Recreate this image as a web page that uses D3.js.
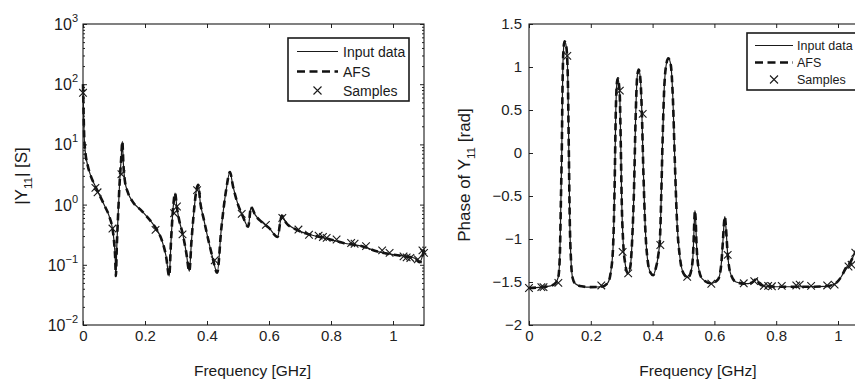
<!DOCTYPE html>
<html>
<head>
<meta charset="utf-8">
<title>Y11 magnitude and phase</title>
<script src="https://cdn.jsdelivr.net/npm/d3@7"></script>
<style>
  body { margin: 0; background: #fff; }
  svg { display: block; font-family: "Liberation Sans", Arial, sans-serif; }
  .tick line { stroke: #222; }
  .tick text { fill: #222; }
</style>
</head>
<body>
<svg id="chart" width="855" height="383"></svg>
<script>
// ---- data ----
const freqTicks = [0, 0.2, 0.4, 0.6, 0.8, 1];
const magTicks = [1e-2, 1e-1, 1e0, 1e1, 1e2, 1e3];
const phaseTicks = [1.5, 1, 0.5, 0, -0.5, -1, -1.5, -2];
const legendLabels = ["Input data", "AFS", "Samples"];

// |Y11| input data [S]
const magFreq = [0, 0.002, 0.004, 0.008, 0.015, 0.025, 0.04, 0.055, 0.07, 0.085, 0.095, 0.1, 0.104, 0.106,
  0.109, 0.113, 0.118, 0.123, 0.127, 0.13, 0.135, 0.145, 0.16, 0.19, 0.22, 0.24, 0.255, 0.268, 0.278,
  0.284, 0.29, 0.297, 0.303, 0.31, 0.322, 0.333, 0.343, 0.35, 0.36, 0.366, 0.372, 0.378, 0.39, 0.405,
  0.418, 0.433, 0.446, 0.462, 0.474, 0.484, 0.5, 0.515, 0.533, 0.542, 0.555, 0.575, 0.6, 0.628, 0.636,
  0.641, 0.655, 0.69, 0.74, 0.79, 0.84, 0.9, 0.95, 1.0, 1.04, 1.07, 1.086, 1.1];
const magInput = [100, 31.6, 12.6, 7.1, 4.5, 3.0, 2.0, 1.38, 0.95, 0.63, 0.40, 0.25, 0.126, 0.065,
  0.20, 0.63, 2.24, 5.6, 11.2, 5.0, 2.5, 1.58, 1.12, 0.78, 0.52, 0.37, 0.25, 0.138, 0.065,
  0.25, 0.79, 1.55, 0.89, 0.56, 0.32, 0.16, 0.078, 0.25, 1.0, 1.78, 2.14, 1.12, 0.56, 0.25,
  0.132, 0.074, 0.39, 1.78, 3.47, 2.0, 1.0, 0.65, 0.43, 0.91, 0.68, 0.52, 0.41, 0.29, 0.50,
  0.66, 0.50, 0.38, 0.31, 0.27, 0.23, 0.204, 0.166, 0.148, 0.138, 0.129, 0.11, 0.178];

// phase of Y11 input data [rad]
const phaseFreq = [0, 0.04, 0.07, 0.085, 0.095, 0.1, 0.103, 0.106, 0.109, 0.112, 0.115, 0.119, 0.123,
  0.126, 0.129, 0.132, 0.136, 0.141, 0.15, 0.17, 0.2, 0.235, 0.255, 0.264, 0.272, 0.277, 0.281, 0.285,
  0.288, 0.291, 0.294, 0.297, 0.3, 0.305, 0.311, 0.32, 0.328, 0.334, 0.34, 0.345, 0.35, 0.355, 0.36,
  0.365, 0.37, 0.376, 0.384, 0.393, 0.402, 0.411, 0.418, 0.424, 0.428, 0.432, 0.437, 0.443, 0.451,
  0.459, 0.466, 0.472, 0.479, 0.488, 0.5, 0.515, 0.526, 0.532, 0.535, 0.537, 0.539, 0.542, 0.548,
  0.56, 0.59, 0.612, 0.622, 0.628, 0.632, 0.634, 0.637, 0.643, 0.652, 0.67, 0.7, 0.72, 0.73, 0.737,
  0.745, 0.76, 0.8, 0.85, 0.9, 0.96, 0.985, 1.0, 1.012, 1.025, 1.04, 1.055, 1.07, 1.085, 1.1];
const phaseInput = [-1.57, -1.56, -1.545, -1.515, -1.44, -1.17, -0.6, 0, 0.9, 1.22, 1.3, 1.27, 1.15,
  0.8, 0, -0.8, -1.25, -1.45, -1.52, -1.55, -1.56, -1.555, -1.51, -1.4, -1.1, -0.4, 0.5, 0.83,
  0.87, 0.8, 0.65, 0.1, -0.55, -1.05, -1.28, -1.4, -1.32, -1.0, -0.4, 0.4, 0.88, 0.97, 0.88,
  0.5, -0.2, -0.85, -1.25, -1.39, -1.42, -1.33, -1.2, -0.98, -0.5, 0.1, 0.7, 1.0, 1.1,
  1.02, 0.6, -0.1, -0.8, -1.2, -1.4, -1.45, -1.35, -1.1, -0.8, -0.67, -0.75, -1.05, -1.32,
  -1.46, -1.515, -1.47, -1.3, -1.0, -0.78, -0.74, -0.85, -1.18, -1.4, -1.5, -1.52, -1.51, -1.48, -1.46,
  -1.52, -1.545, -1.555, -1.555, -1.555, -1.55, -1.53, -1.49, -1.43, -1.34, -1.27, -1.16, -1.05, -0.95, -0.85];

// the AFS model lies on top of the input data
const magAFS = magInput;
const phaseAFS = phaseInput;

// sample frequencies chosen by AFS
const sampleFreq = [0, 0.04, 0.047, 0.095, 0.124, 0.234, 0.294, 0.303, 0.321, 0.368, 0.425, 0.512,
  0.59, 0.643, 0.695, 0.729, 0.76, 0.774, 0.786, 0.818, 0.865, 0.876, 0.913, 0.965, 0.989, 1.034,
  1.044, 1.056, 1.08, 1.095, 1.1];
const sampleMag = [72, 1.9, 1.6, 0.40, 3.2, 0.38, 0.72, 0.93, 0.32, 1.74, 0.119, 0.70,
  0.46, 0.60, 0.385, 0.316, 0.305, 0.29, 0.28, 0.263, 0.23, 0.224, 0.204, 0.174, 0.158, 0.138,
  0.133, 0.13, 0.123, 0.174, 0.158];
const samplePhase = [-1.57, -1.56, -1.56, -1.51, 1.13, -1.54, 0.725, -1.15, -1.40, 0.455, -1.07, -1.44,
  -1.52, -1.185, -1.515, -1.49, -1.545, -1.545, -1.55, -1.545, -1.54, -1.53, -1.545, -1.54, -1.53, -1.32,
  -1.30, -1.16, -1.0, -0.9, -0.87];

// ---- drawing ----
const svg = d3.select("#chart");
const ink = "#1a1a1a";
const tickFont = 15;

function zip(xs, ys) { return xs.map((x, i) => [x, ys[i]]); }

function xMark(g, cx, cy, r) {
  g.append("path")
    .attr("d", `M${cx - r},${cy - r}L${cx + r},${cy + r}M${cx - r},${cy + r}L${cx + r},${cy - r}`)
    .attr("stroke", ink).attr("stroke-width", 1.1).attr("fill", "none");
}

function drawPanel(opt) {
  const g = svg.append("g");
  const x = d3.scaleLinear().domain([0, 1.1]).range([opt.left, opt.left + 1.1 * opt.unit]);
  const y = opt.y;
  const [x0, x1] = x.range();
  const [y1, y0] = y.range();

  // x ticks bottom (with labels) and top
  g.append("g").attr("transform", `translate(0,${y1})`)
    .call(d3.axisBottom(x).tickValues(freqTicks).tickSize(-4).tickPadding(5).tickFormat(d3.format("~g")))
    .call(a => a.select(".domain").remove())
    .call(a => a.selectAll("text").attr("font-size", tickFont).attr("font-family", "Liberation Sans, Arial"));
  g.append("g").attr("transform", `translate(0,${y0})`)
    .call(d3.axisTop(x).tickValues(freqTicks).tickSize(-4).tickFormat(""))
    .call(a => a.select(".domain").remove());

  opt.yAxis(g, x0, x1);

  // curves
  const line = d3.line().x(d => x(d[0])).y(d => y(d[1])).curve(d3.curveMonotoneX);
  g.append("path").datum(opt.input).attr("d", line)
    .attr("fill", "none").attr("stroke", ink).attr("stroke-width", 1.2);
  g.append("path").datum(opt.afs).attr("d", line)
    .attr("fill", "none").attr("stroke", "#111").attr("stroke-width", 2.6)
    .attr("stroke-dasharray", "7,4.5");

  const marks = g.append("g");
  opt.samples.forEach(d => xMark(marks, x(d[0]), y(d[1]), 3.8));

  // box
  g.append("rect").attr("x", x0).attr("y", y0).attr("width", x1 - x0).attr("height", y1 - y0)
    .attr("fill", "none").attr("stroke", ink).attr("stroke-width", 1.1);

  // x label
  g.append("text").attr("x", opt.left + 0.55 * opt.unit - 1).attr("y", 376)
    .attr("text-anchor", "middle").attr("font-size", 15.5).attr("fill", ink)
    .text("Frequency [GHz]");

  // legend
  const L = opt.legend;
  const lg = g.append("g");
  lg.append("rect").attr("x", L.x).attr("y", L.y).attr("width", L.w).attr("height", L.h)
    .attr("fill", "#fff").attr("stroke", ink).attr("stroke-width", 1.6);
  legendLabels.forEach((t, i) => {
    const cy = Math.round(L.y + L.row0 + i * L.step) + 0.5;
    if (i === 0) {
      lg.append("line").attr("x1", L.lx0).attr("x2", L.lx1).attr("y1", cy).attr("y2", cy)
        .attr("stroke", ink).attr("stroke-width", 1.2);
    } else if (i === 1) {
      lg.append("line").attr("x1", L.lx0).attr("x2", L.lx1).attr("y1", cy).attr("y2", cy)
        .attr("stroke", "#111").attr("stroke-width", 2.6).attr("stroke-dasharray", "8,4.5");
    } else {
      xMark(lg, (L.lx0 + L.lx1) / 2, cy, 4);
    }
    lg.append("text").attr("x", L.tx).attr("y", cy + L.fs * 0.36)
      .attr("font-size", L.fs).attr("fill", ink).text(t);
  });
}

// left panel: |Y11| on a log axis
const yMag = d3.scaleLog().domain([1e-2, 1e3]).range([325, 24]);
drawPanel({
  left: 83, unit: 310, y: yMag,
  input: zip(magFreq, magInput),
  afs: zip(magFreq, magAFS),
  samples: zip(sampleFreq, sampleMag),
  legend: { x: 288, y: 38, w: 121, h: 63, row0: 13, step: 19.5, lx0: 297, lx1: 338, tx: 343, fs: 14 },
  yAxis: (g, x0, x1) => {
    const minor = [];
    magTicks.slice(0, -1).forEach(m => { for (let k = 2; k <= 9; k++) minor.push(m * k); });
    g.append("g").attr("transform", `translate(${x0},0)`)
      .call(d3.axisLeft(yMag).tickValues(magTicks).tickSize(-4).tickFormat(""))
      .call(a => a.select(".domain").remove());
    g.append("g").attr("transform", `translate(${x0},0)`)
      .call(d3.axisLeft(yMag).tickValues(minor).tickSize(-2).tickFormat(""))
      .call(a => a.select(".domain").remove());
    g.append("g").attr("transform", `translate(${x1},0)`)
      .call(d3.axisRight(yMag).tickValues(magTicks).tickSize(-4).tickFormat(""))
      .call(a => a.select(".domain").remove());
    g.append("g").attr("transform", `translate(${x1},0)`)
      .call(d3.axisRight(yMag).tickValues(minor).tickSize(-2).tickFormat(""))
      .call(a => a.select(".domain").remove());
    const labels = g.append("g");
    magTicks.forEach(m => {
      const e = Math.round(Math.log10(m));
      const t = labels.append("text").attr("x", 78).attr("y", yMag(m) + 6)
        .attr("text-anchor", "end").attr("fill", ink);
      t.append("tspan").attr("font-size", 16).text("10");
      t.append("tspan").attr("font-size", 11).attr("dy", -8).text(e < 0 ? "\u2212" + (-e) : e);
    });
    const yl = g.append("text").attr("transform", "translate(27,176) rotate(-90)")
      .attr("text-anchor", "middle").attr("font-size", 17).attr("fill", ink);
    yl.append("tspan").text("|Y");
    yl.append("tspan").attr("font-size", 11.5).attr("dy", 5).text("11");
    yl.append("tspan").attr("dy", -5).text("| [S]");
  }
});

// right panel: phase of Y11
const yPhase = d3.scaleLinear().domain([-2, 1.5]).range([325, 24]);
drawPanel({
  left: 529, unit: 309, y: yPhase,
  input: zip(phaseFreq, phaseInput),
  afs: zip(phaseFreq, phaseAFS),
  samples: zip(sampleFreq, samplePhase),
  legend: { x: 747, y: 33, w: 125, h: 57, row0: 12, step: 17, lx0: 755, lx1: 793, tx: 797, fs: 12.5 },
  yAxis: (g, x0, x1) => {
    g.append("g").attr("transform", `translate(${x0},0)`)
      .call(d3.axisLeft(yPhase).tickValues(phaseTicks).tickSize(-4).tickPadding(7).tickFormat(d3.format("~g")))
      .call(a => a.select(".domain").remove())
      .call(a => a.selectAll("text").attr("font-size", tickFont).attr("font-family", "Liberation Sans, Arial"));
    g.append("g").attr("transform", `translate(${x1},0)`)
      .call(d3.axisRight(yPhase).tickValues(phaseTicks).tickSize(-4).tickFormat(""))
      .call(a => a.select(".domain").remove());
    const yl = g.append("text").attr("transform", "translate(470,175) rotate(-90)")
      .attr("text-anchor", "middle").attr("font-size", 17).attr("fill", ink);
    yl.append("tspan").text("Phase of Y");
    yl.append("tspan").attr("font-size", 11.5).attr("dy", 5).text("11");
    yl.append("tspan").attr("dy", -5).text(" [rad]");
  }
});
</script>
</body>
</html>
